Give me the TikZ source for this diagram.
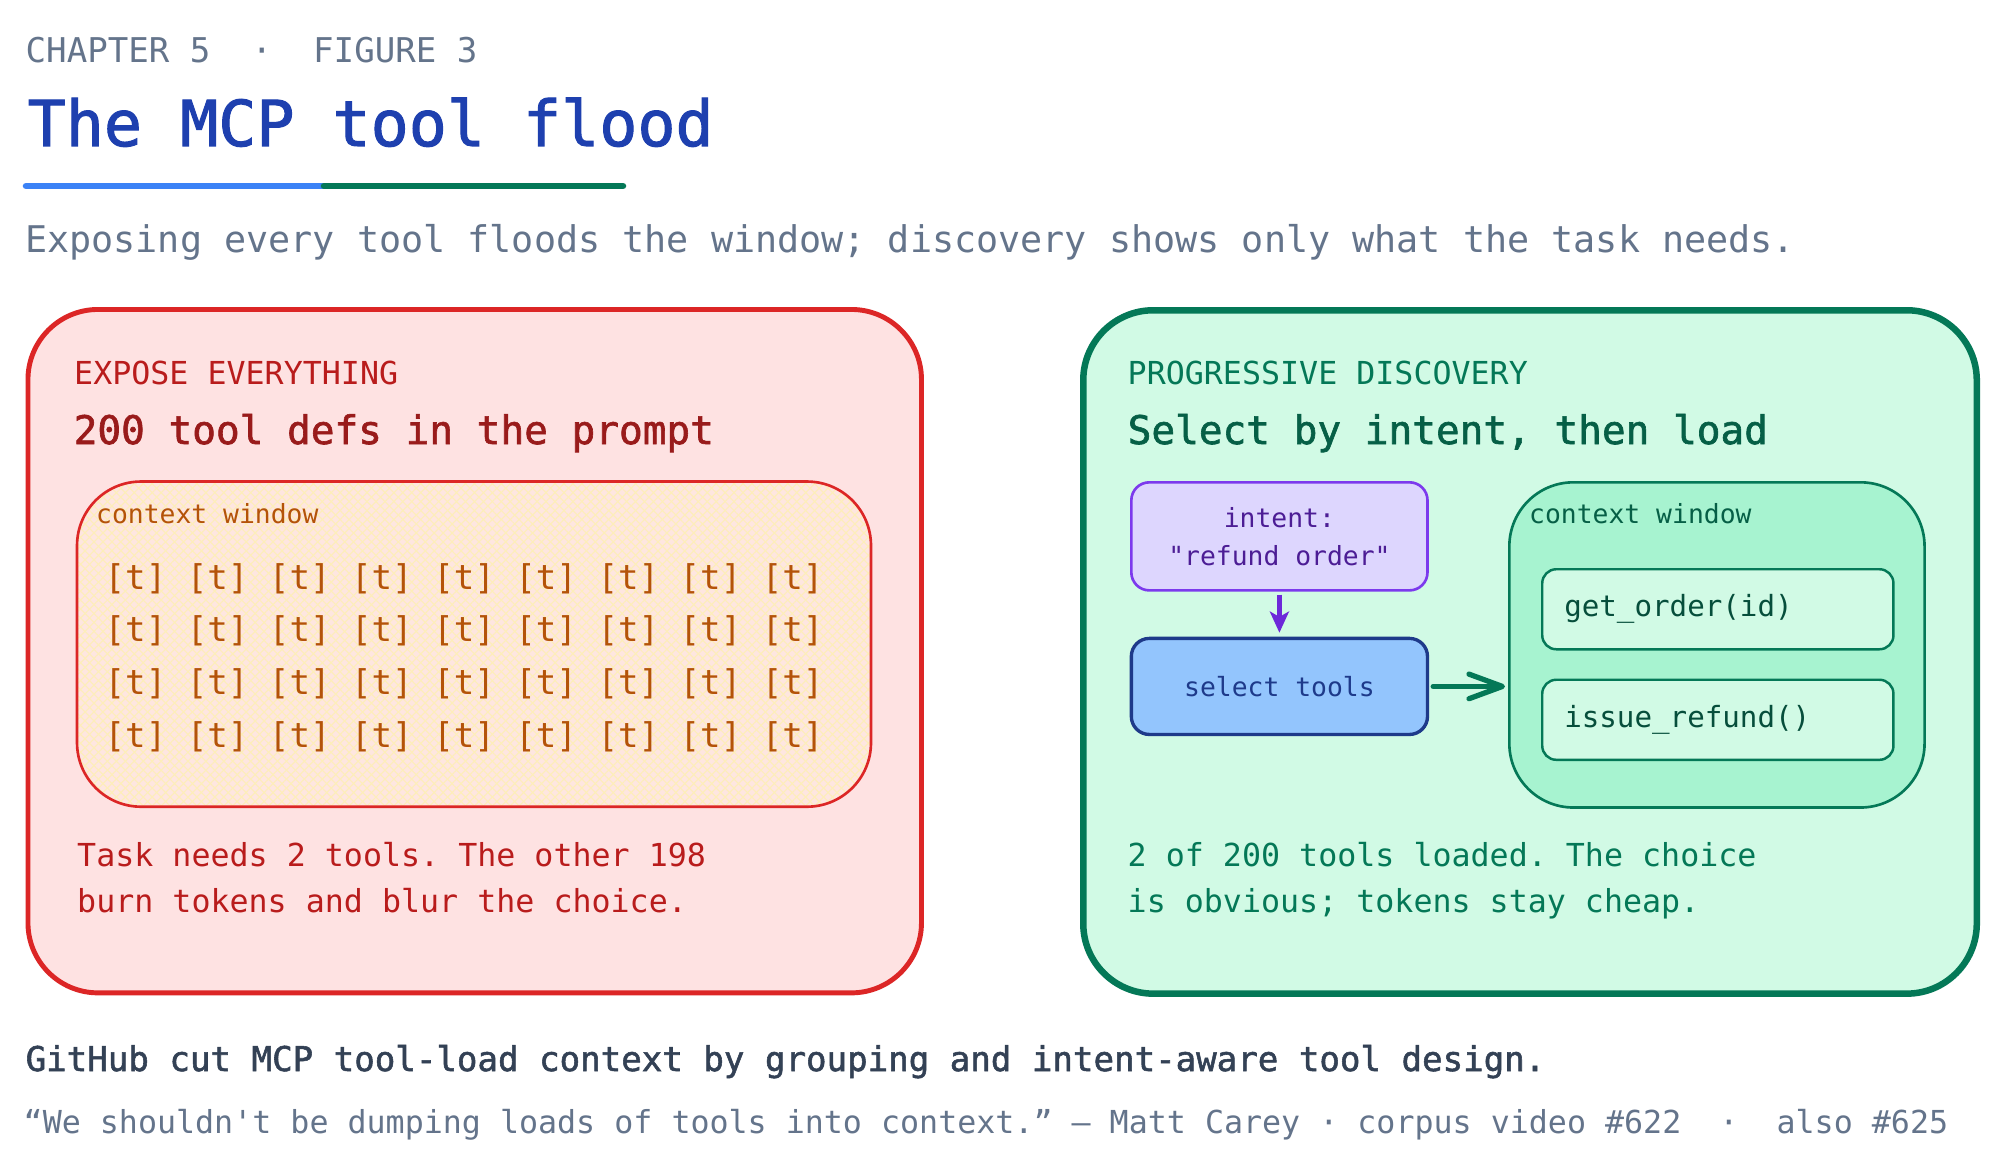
\documentclass[tikz,border=0pt]{standalone}
\usepackage{fontspec}
\setmonofont[BoldFont={DejaVu Sans Mono}, BoldFeatures={FakeBold=1.6}]{DejaVu Sans Mono}
\usepackage{xcolor}
\usetikzlibrary{arrows.meta, positioning, patterns.meta}

\definecolor{inkSlate}{RGB}{100, 116, 139}
\definecolor{inkDark}{RGB}{51, 65, 85}
\definecolor{titleBlue}{RGB}{30, 64, 175}
\definecolor{barBlue}{RGB}{59, 130, 246}
\definecolor{barGreen}{RGB}{4, 120, 87}
\definecolor{redFill}{RGB}{254, 226, 226}
\definecolor{redLine}{RGB}{220, 38, 38}
\definecolor{redText}{RGB}{185, 28, 28}
\definecolor{redHead}{RGB}{153, 27, 27}
\definecolor{amberText}{RGB}{180, 83, 9}
\definecolor{ctxPeach}{RGB}{254, 230, 224}
\definecolor{hatchYellow}{RGB}{253, 238, 185}
\definecolor{greenFill}{RGB}{209, 250, 229}
\definecolor{greenLine}{RGB}{4, 120, 87}
\definecolor{greenHead}{RGB}{6, 95, 70}
\definecolor{greenCtx}{RGB}{167, 243, 208}
\definecolor{toolText}{RGB}{6, 78, 59}
\definecolor{violetFill}{RGB}{221, 214, 254}
\definecolor{violetLine}{RGB}{124, 58, 237}
\definecolor{violetArrow}{RGB}{109, 40, 217}
\definecolor{violetText}{RGB}{76, 29, 149}
\definecolor{blueBox}{RGB}{147, 197, 253}
\definecolor{navyLine}{RGB}{30, 58, 138}

\begin{document}
\begin{tikzpicture}[
    x=0.01cm, y=-0.01cm,
    every node/.style={inner sep=0pt, font=\ttfamily},
    chapter/.style={anchor=base west, text=inkSlate, font=\ttfamily\fontsize{9.7}{12}\selectfont},
    titletext/.style={anchor=base west, text=titleBlue, font=\ttfamily\bfseries\fontsize{18}{22}\selectfont},
    subtitle/.style={anchor=base west, text=inkSlate, font=\ttfamily\fontsize{10.45}{13}\selectfont},
    panel/.style={rectangle, rounded corners=0.7cm, anchor=north west,
      minimum width=8.93cm, minimum height=6.83cm},
    ctxwin/.style={rectangle, rounded corners=0.64cm, anchor=north west,
      line width=0.75pt, minimum height=3.25cm},
    kicker/.style={anchor=base west, font=\ttfamily\fontsize{9}{11}\selectfont},
    heading/.style={anchor=base west, font=\ttfamily\bfseries\fontsize{11.2}{14}\selectfont},
    ctxlabel/.style={anchor=base west, font=\ttfamily\fontsize{7.5}{9}\selectfont},
    token/.style={anchor=base west, text=amberText, font=\ttfamily\fontsize{9.7}{12}\selectfont},
    note/.style={anchor=north west, align=left, font=\ttfamily\fontsize{9}{13.1}\selectfont},
    stepbox/.style={rectangle, rounded corners=0.18cm, minimum width=2.96cm,
      align=center, font=\ttfamily\fontsize{7.5}{10.8}\selectfont},
    toolbox/.style={rectangle, rounded corners=0.14cm, draw=greenLine, fill=greenFill,
      line width=0.7pt, minimum height=0.8cm, text width=3.07cm, inner xsep=0.22cm,
      align=left, text=toolText, font=\ttfamily\fontsize{8.3}{10}\selectfont},
    intentarrow/.style={-{Stealth[length=6pt, width=5.4pt, inset=1.5pt]}, line width=1.3pt,
      violetArrow, shorten <=0.03cm, shorten >=0.04cm},
    loadarrow/.style={-{Straight Barb[length=9.5pt, width=7pt, round]}, line width=1.5pt,
      line cap=round, greenLine, shorten <=0.04cm, shorten >=0.03cm}
  ]
    \path[use as bounding box, fill=white] (0,0) rectangle (2000,1173);

    % Header
    \node[chapter] (chapter) at (25,62.5) {CHAPTER 5\ \ ·\ \ FIGURE 3};
    \node[titletext] (title) at (27,146) {The MCP tool flood};
    \draw[line width=1.85pt, line cap=round, barBlue] (26,186) -- (324,186);
    \draw[line width=1.85pt, line cap=round, barGreen] (324,186) -- (623,186);
    \node[subtitle] (subtitle) at (24.5,252)
      {Exposing every tool floods the window; discovery shows only what the task needs.};

    % Left panel: expose everything
    \node[panel, draw=redLine, fill=redFill, line width=1.4pt] (expose) at (25.5,307) {};
    \node[kicker, text=redText] (exposetag) at (73.5,384) {EXPOSE EVERYTHING};
    \node[heading, text=redHead] (exposehead) at (73,444) {200 tool defs in the prompt};
    \node[ctxwin, draw=redLine, minimum width=7.935cm,
      preaction={fill=ctxPeach},
      pattern={Hatch[angle=45, distance=1.8pt, line width=0.3pt]}, pattern color=hatchYellow]
      (ctxL) at (76.5,481) {};
    \node[ctxlabel, text=amberText] (ctxLlabel) at (95.5,523) {context window};
    \foreach \r in {0,...,3}
      \node[token] (tokens\r) at (104, {589+52.7*\r}) {[t] [t] [t] [t] [t] [t] [t] [t] [t]};
    \node[note, text=redText] (exposenote) at (76.5,842)
      {Task needs 2 tools. The other 198\\burn tokens and blur the choice.};

    % Right panel: progressive discovery
    \node[panel, draw=greenLine, fill=greenFill, line width=1.85pt] (discover) at (1080,307) {};
    \node[kicker, text=greenLine] (discovertag) at (1127,384) {PROGRESSIVE DISCOVERY};
    \node[heading, text=greenHead] (discoverhead) at (1127,444) {Select by intent, then load};
    \node[stepbox, anchor=north west, draw=violetLine, fill=violetFill, line width=0.75pt,
      minimum height=1.08cm, text=violetText] (intent) at (1130,481)
      {intent:\\"refund order"};
    \node[stepbox, below=0.45cm of intent, draw=navyLine, fill=blueBox, line width=0.95pt,
      minimum height=0.96cm, text=navyLine] (select) {select tools};
    \node[ctxwin, draw=greenLine, fill=greenCtx, minimum width=4.15cm] (ctxR) at (1508,481) {};
    \node[ctxlabel, text=greenHead] (ctxRlabel) at (1528.5,523) {context window};
    \node[toolbox, anchor=north west] (getorder) at (1541,568) {get\_order(id)};
    \node[toolbox, below=0.28cm of getorder] (refund) {issue\_refund()};
    \node[note, text=greenLine] (discovernote) at (1127,842)
      {2 of 200 tools loaded. The choice\\is obvious; tokens stay cheap.};

    % Arrows
    \draw[intentarrow] (intent.south) -- (select.north);
    \draw[loadarrow] (select.east) -- (select.east -| ctxR.west);

    % Footer
    \node[anchor=base west, text=inkDark, font=\ttfamily\bfseries\fontsize{9.7}{12}\selectfont]
      (source) at (25,1071)
      {GitHub cut MCP tool-load context by grouping and intent-aware tool design.};
    \node[anchor=base west, text=inkSlate, font=\ttfamily\fontsize{9}{11}\selectfont]
      (quote) at (23,1133)
      {“We shouldn't be dumping loads of tools into context.” — Matt Carey · corpus video \#622\ \ ·\ \ also \#625};
  \end{tikzpicture}
\end{document}
